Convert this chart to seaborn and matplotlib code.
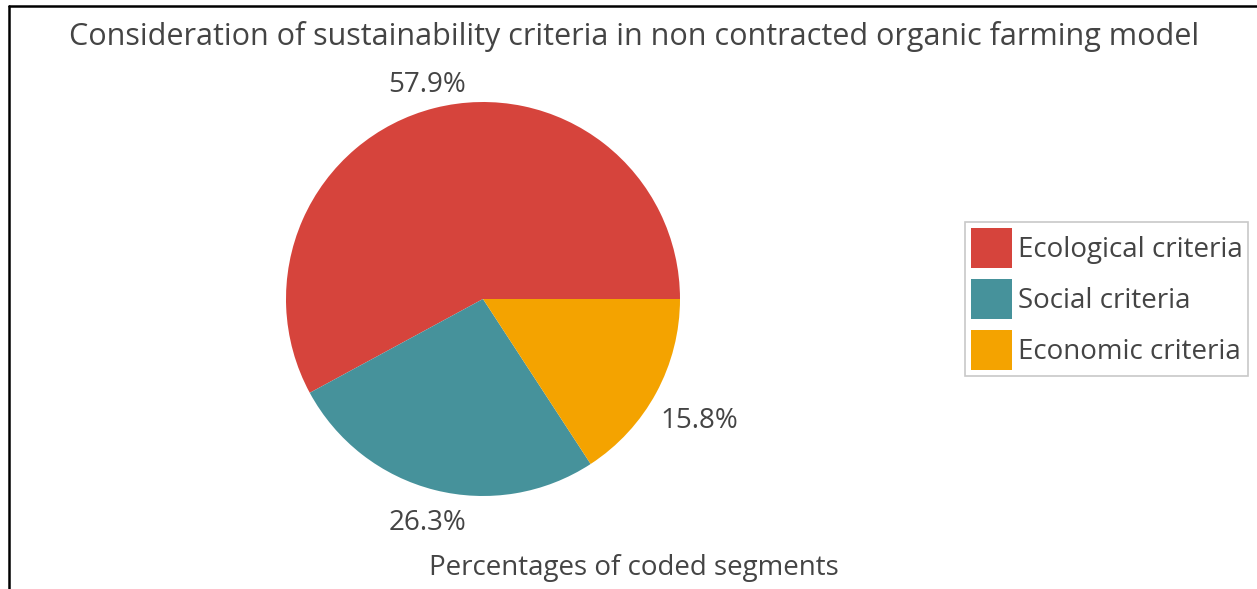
#!/usr/bin/env python3
"""Pie chart: sustainability criteria in non contracted organic farming model."""

import numpy as np
import matplotlib.pyplot as plt
import seaborn as sns
from matplotlib.lines import Line2D
from matplotlib.patches import Patch

CATEGORIES = ["Ecological criteria", "Social criteria", "Economic criteria"]
SHARES = [57.9, 26.3, 15.8]
COLORS = ["#D6443C", "#46929B", "#F4A300"]
TITLE = "Consideration of sustainability criteria in non contracted organic farming model"
XLABEL = "Percentages of coded segments"

sns.set_theme(style="white")
plt.rcParams["font.family"] = ["Open Sans", "DejaVu Sans"]
TEXT = "#444444"

W, H = 1257, 589
fig = plt.figure(figsize=(W / 100, H / 100), dpi=100)

# pie axes: centre (483, 299) px, radius 197 px
cx, cy, r = 483, 299, 197
ax = fig.add_axes([(cx - r) / W, (H - cy - r) / H, 2 * r / W, 2 * r / H])
wedges, _, autotexts = ax.pie(
    SHARES,
    colors=COLORS,
    startangle=0,
    counterclock=True,
    autopct="%.1f%%",
    pctdistance=1.15,
    labels=None,
    wedgeprops=dict(linewidth=0),
    textprops=dict(fontsize=20, color=TEXT),
)
ax.set_xlim(-1, 1)
ax.set_ylim(-1, 1)
ax.set_aspect("auto")
ax.axis("off")

# push the outside labels so their box sits a small gap off the rim
renderer = fig.canvas.get_renderer()
gap = 9
for wedge, txt in zip(wedges, autotexts):
    theta = np.deg2rad((wedge.theta1 + wedge.theta2) / 2)
    bb = txt.get_window_extent(renderer)
    hw, hh = bb.width / 2, bb.height / 2 * 0.8
    d = r + gap + abs(hw * np.cos(theta)) + abs(hh * np.sin(theta))
    txt.set_position((d / r * np.cos(theta), (d * np.sin(theta) - 5) / r))

fig.text(634 / W, 1 - 37 / H, TITLE, ha="center", va="center", fontsize=22, color=TEXT)
fig.text(634 / W, 1 - 568 / H, XLABEL, ha="center", va="center", fontsize=20, color=TEXT)

handles = [Patch(facecolor=c, edgecolor="none") for c in COLORS]
leg = fig.legend(
    handles, CATEGORIES,
    loc="center left", bbox_to_anchor=(965 / W, 1 - 299 / H),
    fontsize=20, frameon=True, fancybox=False,
    handlelength=1.5, handleheight=1.85, handletextpad=0.2,
    labelspacing=0.4, borderpad=0.2, borderaxespad=0,
)
leg.get_frame().set_edgecolor("#BBBBBB")
leg.get_frame().set_linewidth(1.2)
for t in leg.get_texts():
    t.set_color(TEXT)

# document frame lines
fig.add_artist(Line2D([9 / W, 1], [1 - 6 / H, 1 - 6 / H], color="black", lw=1.8))
fig.add_artist(Line2D([9 / W, 9 / W], [0, 1 - 6 / H], color="black", lw=1.8))

fig.savefig("out.png", dpi=100)
